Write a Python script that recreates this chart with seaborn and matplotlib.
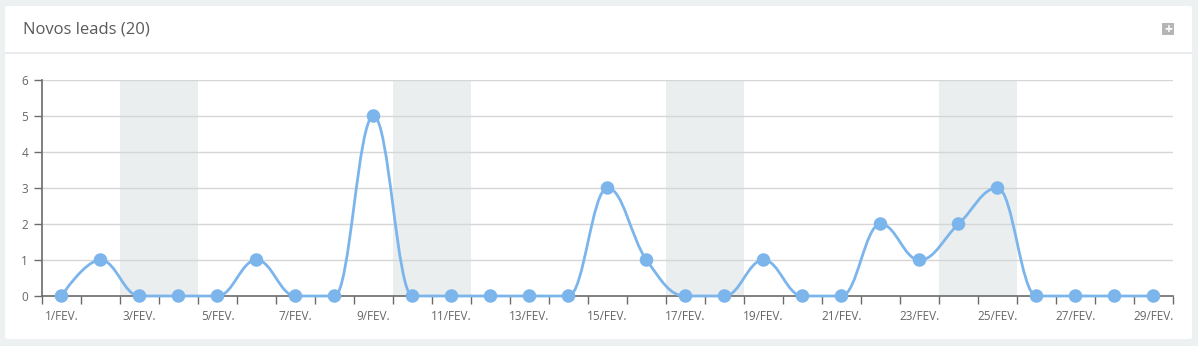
import matplotlib
matplotlib.use("Agg")
import matplotlib.pyplot as plt
import seaborn as sns
import numpy as np
import pandas as pd
from matplotlib.path import Path
from matplotlib.patches import PathPatch, FancyBboxPatch
from matplotlib.lines import Line2D

# ---- data ----
days = list(range(1, 30))
leads = [0, 1, 0, 0, 0, 1, 0, 0, 5, 0, 0, 0, 0, 0, 3, 1, 0, 0, 1, 0,
         0, 2, 1, 2, 3, 0, 0, 0, 0]
weekend_days = [3, 4, 10, 11, 17, 18, 24, 25]
tick_days = list(range(1, 30, 2))
tick_labels = [f"{d}/FEV." for d in tick_days]
title = "Novos leads (20)"
y_ticks = [0, 1, 2, 3, 4, 5, 6]

LINE = "#7cb5ec"
AX = "#6b6b6b"
TXT = "#666666"

sns.set_theme(style="white")
plt.rcParams['font.family'] = ['Open Sans', 'DejaVu Sans']

fig = plt.figure(figsize=(11.98, 3.46), dpi=100)
fig.patch.set_facecolor("#eef1f2")

W, H = 1198, 346
def fx(px): return px / W
def fy(py): return 1 - py / H

# card
card = FancyBboxPatch((fx(5), fy(339)), fx(1192) - fx(5), fy(6) - fy(339),
                      boxstyle="round,pad=0,rounding_size=0.004",
                      transform=fig.transFigure, facecolor="white",
                      edgecolor="none", zorder=-10)
fig.add_artist(card)
fig.add_artist(Line2D([fx(5), fx(1192)], [fy(53), fy(53)], transform=fig.transFigure,
                      color="#e6e9ea", lw=1.2, zorder=-9))
fig.text(fx(23), fy(30), title, fontsize=12, color="#5a5a5a", va="center", ha="left")
# plus icon
icon = FancyBboxPatch((fx(1162), fy(35)), fx(12), fy(23) - fy(35),
                      boxstyle="round,pad=0,rounding_size=0.001",
                      transform=fig.transFigure, facecolor="#b5b5b5", edgecolor="none",
                      zorder=-8)
fig.add_artist(icon)
fig.text(fx(1168), fy(29.5), "+", fontsize=10, color="white", ha="center", va="center",
         fontweight="bold")

ax = fig.add_axes([fx(42), fy(296), fx(1173) - fx(42), fy(80) - fy(296)])
ax.set_zorder(5)
ax.set_facecolor("none")
ax.set_xlim(0.5, 29.5)
ax.set_ylim(0, 6)

for d in weekend_days[::2]:
    ax.axvspan(d - 0.5, d + 1.5, color="#eaeeef", lw=0, zorder=0)

for y in y_ticks[1:]:
    ax.axhline(y, color="#d6d6d6", lw=1, zorder=1)

# Highcharts-style spline path
xs = np.array(days, dtype=float)
ys = np.array(leads, dtype=float)
n = len(xs)
sm = 1.5
den = sm + 1
lc = [None] * n
rc = [None] * n
for i in range(1, n - 1):
    px, py = xs[i], ys[i]
    lx, ly = xs[i - 1], ys[i - 1]
    nx, ny = xs[i + 1], ys[i + 1]
    lcx = (sm * px + lx) / den
    lcy = (sm * py + ly) / den
    rcx = (sm * px + nx) / den
    rcy = (sm * py + ny) / den
    corr = 0.0
    if rcx != lcx:
        corr = ((rcy - lcy) * (rcx - px)) / (rcx - lcx) + py - rcy
    lcy += corr
    rcy += corr
    if lcy > ly and lcy > py:
        lcy = max(ly, py); rcy = 2 * py - lcy
    elif lcy < ly and lcy < py:
        lcy = min(ly, py); rcy = 2 * py - lcy
    if rcy > ny and rcy > py:
        rcy = max(ny, py); lcy = 2 * py - rcy
    elif rcy < ny and rcy < py:
        rcy = min(ny, py); lcy = 2 * py - rcy
    lc[i] = (lcx, lcy)
    rc[i] = (rcx, rcy)

verts = [(xs[0], ys[0])]
codes = [Path.MOVETO]
for i in range(1, n):
    c1 = rc[i - 1] if rc[i - 1] is not None else (xs[i - 1], ys[i - 1])
    c2 = lc[i] if lc[i] is not None else (xs[i], ys[i])
    verts += [c1, c2, (xs[i], ys[i])]
    codes += [Path.CURVE4] * 3
ax.add_patch(PathPatch(Path(verts, codes), facecolor="none", edgecolor=LINE, lw=2,
                       zorder=3, clip_on=False, capstyle="round", joinstyle="round"))

df = pd.DataFrame({"day": days, "leads": leads})
sns.scatterplot(data=df, x="day", y="leads", ax=ax, color=LINE, s=95,
                edgecolor="none", zorder=4, clip_on=False, legend=False)

for s in ["top", "right"]:
    ax.spines[s].set_visible(False)
for s in ["left", "bottom"]:
    ax.spines[s].set_color(AX)
    ax.spines[s].set_linewidth(1.2)
    ax.spines[s].set_zorder(2)

ax.set_yticks(y_ticks)
ax.set_yticklabels([str(v) for v in y_ticks])
ax.set_xticks(tick_days)
ax.set_xticklabels(tick_labels)
ax.set_xticks([d + 0.5 for d in range(0, 30)], minor=True)
ax.tick_params(axis="x", which="major", bottom=True, length=0, pad=10, labelsize=8.5,
               colors=TXT)
ax.tick_params(axis="x", which="minor", bottom=True, length=6, width=1, color=AX,
               direction="out")
ax.tick_params(axis="y", which="major", left=True, length=6, width=1, color=AX,
               direction="out", labelsize=8.5, labelcolor=TXT, pad=4)
ax.set_xlabel("")
ax.set_ylabel("")

fig.savefig("out.png", dpi=100, facecolor=fig.get_facecolor())
